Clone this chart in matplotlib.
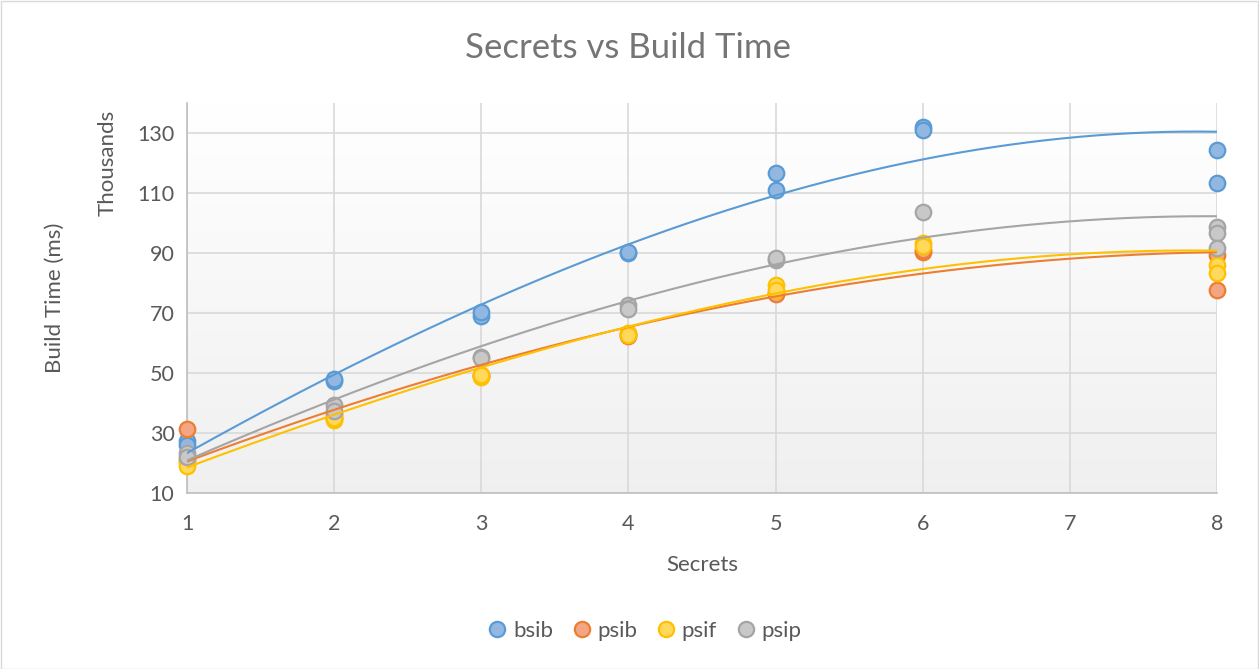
import numpy as np
import matplotlib
matplotlib.use("Agg")
import matplotlib.pyplot as plt
from matplotlib.lines import Line2D
from matplotlib.patches import Rectangle

plt.rcParams['font.family'] = ['Lato', 'DejaVu Sans']

# Build times (thousands of ms) per number of secrets, several runs each
bsib_x = [1, 1, 2, 2, 3, 3, 4, 4, 5, 5, 6, 6, 8, 8]
bsib_y = [27.3, 26.0, 47.5, 48.0, 69.0, 70.3, 90.0, 90.5, 116.7, 111.0, 132.0, 131.0, 124.3, 113.3]

psib_x = [1, 1, 2, 2, 3, 3, 4, 4, 5, 5, 6, 6, 8, 8]
psib_y = [31.3, 21.0, 36.5, 35.0, 49.5, 49.0, 63.0, 62.5, 76.7, 76.3, 90.3, 91.0, 89.3, 77.7]

psif_x = [1, 1, 2, 2, 3, 3, 4, 4, 5, 5, 6, 6, 8, 8]
psif_y = [20.5, 19.0, 34.3, 35.0, 48.7, 49.5, 63.3, 62.8, 79.3, 77.7, 93.3, 92.3, 86.0, 83.3]

psip_x = [1, 1, 2, 2, 3, 3, 4, 4, 5, 5, 6, 8, 8, 8]
psip_y = [23.3, 22.0, 39.3, 37.3, 55.3, 55.0, 72.7, 71.3, 87.7, 88.3, 103.7, 98.7, 96.7, 91.7]

# Trendline values at each whole number of secrets (smoothed by a cubic below)
trend_x = [1, 2, 3, 4, 5, 6, 7, 8]
bsib_trend = [23.8, 48.3, 73.2, 93.4, 109.3, 121.0, 128.0, 130.7]
psib_trend = [20.4, 38.0, 52.7, 65.0, 75.7, 83.3, 88.0, 90.3]
psif_trend = [18.8, 35.3, 52.5, 65.3, 76.5, 85.0, 89.0, 91.0]
psip_trend = [21.7, 39.3, 59.3, 75.0, 86.8, 94.3, 100.0, 102.7]

series_names = ["bsib", "psib", "psif", "psip"]
x_ticks = [1, 2, 3, 4, 5, 6, 7, 8]
y_ticks = [10, 30, 50, 70, 90, 110, 130]

edge_colors = ["#5B9BD5", "#ED7D31", "#FFC000", "#A5A5A5"]
fill_colors = ["#92B8E2", "#F3A584", "#FFD85C", "#C8C8C8"]

series = [(bsib_x, bsib_y), (psib_x, psib_y), (psif_x, psif_y), (psip_x, psip_y)]
trends = [bsib_trend, psib_trend, psif_trend, psip_trend]

W, H = 1259, 669
fig = plt.figure(figsize=(W / 100, H / 100), dpi=100)
fig.patch.set_facecolor("white")
fig.add_artist(Rectangle((0.5 / W, 0.5 / H), 1 - 1.5 / W, 1 - 1.5 / H,
                         transform=fig.transFigure, fill=False,
                         edgecolor="#D9D9D9", linewidth=1.0))

ax = fig.add_axes([187 / W, 1 - 493 / H, (1217 - 187) / W, (493 - 103) / H])
ax.set_xlim(1, 8)
ax.set_ylim(10, 140)

# vertical gradient in the plot area: white at top, light grey at bottom
grad = np.linspace(1.0, 0.0, 256)
top_c = np.array([1.0, 1.0, 1.0])
bot_c = np.array([0.94, 0.94, 0.94])
img = (bot_c + (top_c - bot_c) * grad[:, None]).reshape(256, 1, 3)
ax.imshow(img, extent=[0, 1, 0, 1], transform=ax.transAxes, aspect="auto",
          zorder=0, interpolation="bilinear")
ax.set_facecolor("none")

ax.set_xticks(x_ticks)
ax.set_yticks(y_ticks)
ax.grid(True, color="#D9D9D9", linewidth=1.2, zorder=1)
ax.set_axisbelow(True)
for s in ["top", "right"]:
    ax.spines[s].set_visible(False)
for s in ["left", "bottom"]:
    ax.spines[s].set_color("#BFBFBF")
    ax.spines[s].set_linewidth(1.2)
ax.tick_params(length=0, labelsize=15.5, colors="#595959")
ax.tick_params(axis="y", pad=9)
ax.tick_params(axis="x", pad=15)

for i, (xs, ys) in enumerate(series):
    ax.scatter(xs, ys, s=125, facecolor=fill_colors[i], edgecolor=edge_colors[i],
               linewidth=1.6, zorder=3 + i, clip_on=False)

# smooth polynomial trendlines
xx = np.linspace(1, 8, 300)
for i, ty in enumerate(trends):
    c = np.polyfit(trend_x, ty, 3)
    ax.plot(xx, np.polyval(c, xx), color=edge_colors[i], linewidth=1.5, zorder=10)

ax.set_xlabel("Secrets", fontsize=16, color="#595959", labelpad=15)
fig.text(55 / W, 1 - 298 / H, "Build Time (ms)", rotation=90, ha="center",
         va="center", fontsize=16, color="#595959")
fig.text(108 / W, 1 - 163 / H, "Thousands", rotation=90, ha="center",
         va="center", fontsize=16, color="#595959")

fig.text(628 / W, 1 - 48 / H, "Secrets vs Build Time", ha="center", va="center",
         fontsize=25, color="#757575")

handles = [Line2D([], [], linestyle="none", marker="o", markersize=11,
                  markerfacecolor=fill_colors[i], markeredgecolor=edge_colors[i],
                  markeredgewidth=1.6) for i in range(4)]
fig.legend(handles, series_names, loc="center", bbox_to_anchor=(645 / W, 1 - 631 / H),
           ncol=4, frameon=False, fontsize=16, handlelength=0.8, handletextpad=0.3,
           columnspacing=0.9, labelcolor="#595959")

fig.savefig("out.png", dpi=100)
